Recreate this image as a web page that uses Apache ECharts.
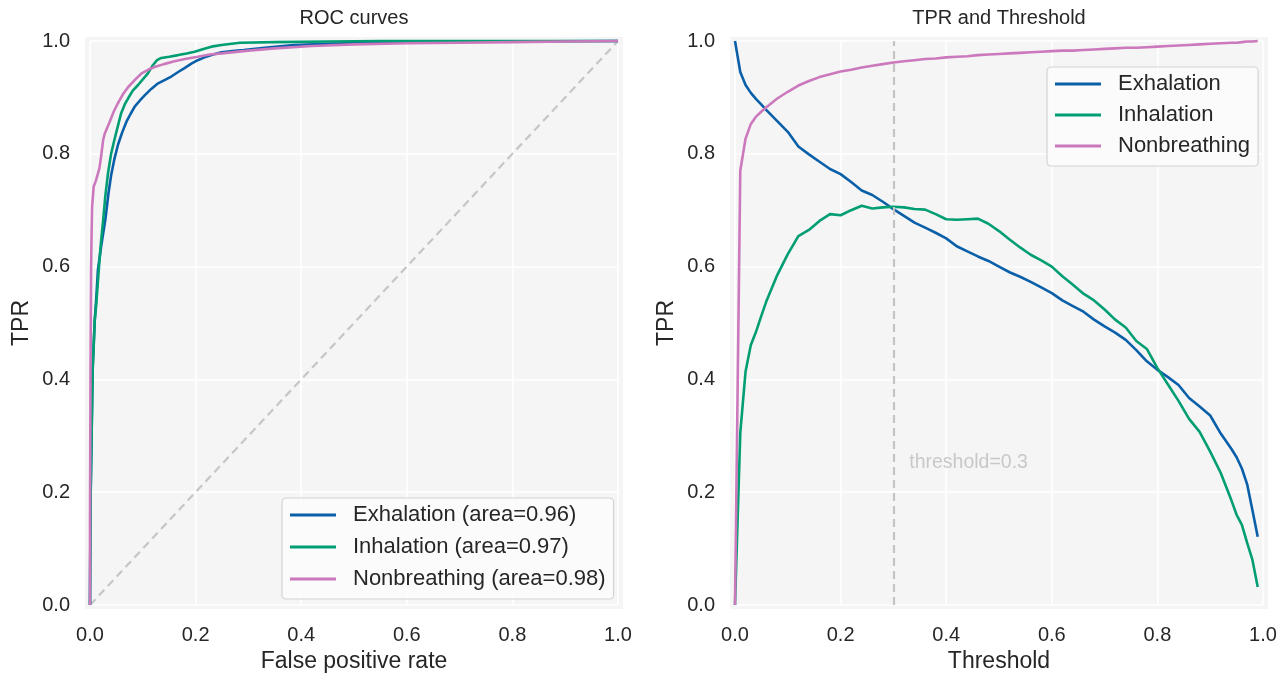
<!DOCTYPE html>
<html><head><meta charset="utf-8">
<script src="https://cdn.jsdelivr.net/npm/echarts@6/dist/echarts.min.js"></script>
<style>html,body{margin:0;padding:0;background:#fff}#c{width:1284px;height:679px}</style>
</head><body><div id="c"></div>
<script>
// ---------- data ----------
const classNames = ['Exhalation', 'Inhalation', 'Nonbreathing'];
const rocAreas = ['0.96', '0.97', '0.98'];
const tickLabels = ['0.0', '0.2', '0.4', '0.6', '0.8', '1.0'];

// ROC curves: [FPR, TPR]
const rocExhalation = [[0,0],[0.001,0.18],[0.003,0.3],[0.005,0.417],[0.009,0.505],[0.012,0.545],[0.015,0.594],[0.021,0.635],[0.029,0.683],[0.035,0.73],[0.04,0.762],[0.046,0.79],[0.053,0.816],[0.061,0.838],[0.069,0.857],[0.077,0.871],[0.085,0.884],[0.095,0.895],[0.104,0.904],[0.116,0.915],[0.129,0.925],[0.142,0.931],[0.154,0.937],[0.167,0.945],[0.179,0.952],[0.192,0.96],[0.204,0.966],[0.217,0.971],[0.23,0.975],[0.249,0.98],[0.27,0.982],[0.291,0.984],[0.34,0.989],[0.386,0.993],[0.45,0.995],[0.513,0.997],[0.6,0.998],[0.75,0.999],[1,1]];
const rocInhalation = [[0,0],[0.001,0.186],[0.003,0.3],[0.005,0.417],[0.009,0.505],[0.012,0.535],[0.018,0.612],[0.021,0.645],[0.025,0.683],[0.029,0.725],[0.034,0.765],[0.04,0.8],[0.045,0.82],[0.05,0.839],[0.059,0.872],[0.066,0.888],[0.072,0.898],[0.081,0.912],[0.091,0.922],[0.1,0.932],[0.11,0.943],[0.119,0.957],[0.127,0.966],[0.135,0.97],[0.15,0.972],[0.167,0.975],[0.183,0.978],[0.198,0.981],[0.215,0.986],[0.23,0.99],[0.249,0.993],[0.284,0.997],[0.35,0.998],[0.45,0.999],[0.55,1],[1,1]];
const rocNonbreathing = [[0,0],[0,0.15],[0.001,0.42],[0.002,0.594],[0.003,0.66],[0.004,0.706],[0.007,0.742],[0.011,0.752],[0.015,0.765],[0.018,0.775],[0.021,0.795],[0.025,0.825],[0.028,0.836],[0.037,0.856],[0.045,0.875],[0.053,0.89],[0.062,0.905],[0.072,0.918],[0.085,0.931],[0.097,0.942],[0.11,0.949],[0.122,0.954],[0.14,0.959],[0.16,0.964],[0.18,0.968],[0.204,0.972],[0.227,0.976],[0.25,0.978],[0.3,0.983],[0.35,0.987],[0.42,0.991],[0.5,0.994],[0.6,0.996],[0.7,0.997],[0.8,0.998],[0.9,0.999],[1,1]];
const chanceLine = [[0,0],[1,1]];

// TPR vs threshold
const thresholds = [0,0.01,0.02,0.03,0.04,0.05,0.06,0.08,0.10,0.12,0.14,0.16,0.18,0.20,0.22,0.24,0.26,0.28,0.30,0.32,0.34,0.36,0.38,0.40,0.42,0.44,0.46,0.48,0.50,0.52,0.54,0.56,0.58,0.60,0.62,0.64,0.66,0.68,0.70,0.72,0.74,0.76,0.78,0.80,0.82,0.84,0.86,0.88,0.90,0.92,0.94,0.95,0.96,0.97,0.98,0.99];
const tprExhalation = [1.0,0.945,0.922,0.908,0.897,0.887,0.877,0.858,0.839,0.813,0.799,0.786,0.773,0.764,0.750,0.735,0.727,0.715,0.702,0.690,0.678,0.669,0.660,0.650,0.636,0.627,0.618,0.610,0.600,0.590,0.582,0.573,0.563,0.553,0.540,0.530,0.520,0.506,0.494,0.483,0.470,0.452,0.432,0.417,0.404,0.390,0.367,0.352,0.336,0.304,0.277,0.262,0.242,0.214,0.168,0.121];
const tprInhalation = [0,0.305,0.414,0.461,0.485,0.513,0.540,0.585,0.622,0.654,0.665,0.681,0.693,0.691,0.700,0.708,0.703,0.705,0.706,0.705,0.702,0.701,0.693,0.684,0.683,0.684,0.685,0.676,0.663,0.648,0.634,0.621,0.611,0.600,0.583,0.568,0.552,0.540,0.524,0.506,0.492,0.468,0.454,0.420,0.391,0.362,0.330,0.307,0.272,0.234,0.186,0.160,0.142,0.110,0.080,0.032];
const tprNonbreathing = [0,0.770,0.827,0.853,0.866,0.875,0.883,0.898,0.910,0.921,0.929,0.936,0.941,0.946,0.949,0.953,0.956,0.959,0.962,0.964,0.966,0.968,0.969,0.971,0.972,0.973,0.975,0.976,0.977,0.978,0.979,0.980,0.981,0.982,0.983,0.983,0.984,0.985,0.986,0.987,0.988,0.988,0.989,0.990,0.991,0.992,0.993,0.994,0.995,0.996,0.997,0.997,0.998,0.999,0.999,1.0];
const chosenThreshold = 0.3;
const thresholdNote = 'threshold=0.3';
const thresholdNoteAt = [0.33, 0.235];

// ---------- chart ----------
const colors = ['#0a5fa9', '#029e73', '#cc78bc'];
const FONT = '"Liberation Sans", Arial, Helvetica, sans-serif';
const TXT = '#262626';
const G1 = {left: 90, right: 666, top: 41, bottom: 74};
const G2 = {left: 735, right: 21, top: 41, bottom: 74};

function pair(xs, ys) { return xs.map((x, i) => [x, ys[i]]); }
const fmt = v => tickLabels[Math.round(v / 0.2)] ?? v.toFixed(1);

function xAx(idx, name) {
  return {
    type: 'value', gridIndex: idx, min: 0, max: 1, interval: 0.2,
    name: name, nameLocation: 'middle', nameGap: 44,
    nameTextStyle: {fontFamily: FONT, fontSize: 23, color: TXT},
    axisLine: {show: false}, axisTick: {show: false},
    axisLabel: {fontFamily: FONT, fontSize: 20, color: TXT, margin: 20, formatter: fmt},
    splitLine: {show: true, lineStyle: {color: '#ffffff', width: 1.6}}
  };
}
function yAx(idx) {
  return {
    type: 'value', gridIndex: idx, min: 0, max: 1, interval: 0.2,
    name: 'TPR', nameLocation: 'middle', nameGap: 57, nameRotate: 90,
    nameTextStyle: {fontFamily: FONT, fontSize: 23, color: TXT},
    axisLine: {show: false}, axisTick: {show: false},
    axisLabel: {fontFamily: FONT, fontSize: 20, color: TXT, margin: 20, formatter: fmt},
    splitLine: {show: true, lineStyle: {color: '#ffffff', width: 1.6}}
  };
}

const rocData = [rocExhalation, rocInhalation, rocNonbreathing];
const thrData = [tprExhalation, tprInhalation, tprNonbreathing];
const rocNames = classNames.map((n, i) => n + ' (area=' + rocAreas[i] + ')');

const series = [];
series.push({
  type: 'line', xAxisIndex: 0, yAxisIndex: 0, data: chanceLine, symbol: 'none', silent: true,
  lineStyle: {color: '#c6c6c6', width: 2.2, type: [8, 5]}, z: 1
});
rocData.forEach((d, i) => series.push({
  name: rocNames[i], type: 'line', xAxisIndex: 0, yAxisIndex: 0, data: d,
  symbol: 'none', clip: false, color: colors[i], lineStyle: {width: 2.6, color: colors[i]}, z: 3
}));
thrData.forEach((d, i) => series.push({
  name: classNames[i], type: 'line', xAxisIndex: 1, yAxisIndex: 1, data: pair(thresholds, d),
  symbol: 'none', clip: false, color: colors[i], lineStyle: {width: 2.6, color: colors[i]}, z: 3
}));
series.push({
  type: 'line', xAxisIndex: 1, yAxisIndex: 1, data: [], silent: true, z: 2,
  markLine: {
    silent: true, symbol: 'none', animation: false,
    label: {show: false},
    lineStyle: {color: '#c4c4c4', width: 2.2, type: [8, 5]},
    data: [{xAxis: chosenThreshold}]
  },
  markPoint: {
    silent: true, symbol: 'circle', symbolSize: 0, animation: false,
    label: {show: true, position: [0, 0], align: 'left', verticalAlign: 'bottom',
      formatter: thresholdNote, fontFamily: FONT, fontSize: 19.5, color: '#c8c8c8'},
    data: [{coord: thresholdNoteAt}]
  }
});

function legendCfg(data, left, top, gap) {
  return {
    data: data, orient: 'vertical', left: left, top: top,
    icon: 'rect', itemWidth: 46, itemHeight: 2.8, itemGap: gap,
    padding: [6, 8, 9, 8],
    backgroundColor: 'rgba(252,252,252,0.85)', borderColor: '#d4d4d4', borderWidth: 1.2, borderRadius: 4,
    textStyle: {fontFamily: FONT, fontSize: 22, color: TXT, lineHeight: 22, padding: [0, 0, 0, 12]},
    selectedMode: false
  };
}

const option = {
  animation: false,
  backgroundColor: '#ffffff',
  title: [
    {text: 'ROC curves', left: 349, top: 3, textAlign: 'center',
      textStyle: {fontFamily: FONT, fontSize: 20, fontWeight: 'normal', color: TXT}},
    {text: 'TPR and Threshold', left: 994, top: 3, textAlign: 'center',
      textStyle: {fontFamily: FONT, fontSize: 20, fontWeight: 'normal', color: TXT}}
  ],
  graphic: [
    {type: 'rect', z: -10, silent: true, shape: {x: 85, y: 37, width: 538, height: 572}, style: {fill: '#f5f5f5'}},
    {type: 'rect', z: -10, silent: true, shape: {x: 730, y: 37, width: 538, height: 572}, style: {fill: '#f5f5f5'}}
  ],
  grid: [
    Object.assign({containLabel: false}, G1),
    Object.assign({containLabel: false}, G2)
  ],
  xAxis: [xAx(0, 'False positive rate'), xAx(1, 'Threshold')],
  yAxis: [yAx(0), yAx(1)],
  legend: [
    legendCfg(rocNames, 282, 498, 10),
    legendCfg(classNames, 1047, 67, 9)
  ],
  series: series
};

const chart = echarts.init(document.getElementById('c'), null, {renderer: 'canvas'});
chart.setOption(option);
</script>
</body></html>
